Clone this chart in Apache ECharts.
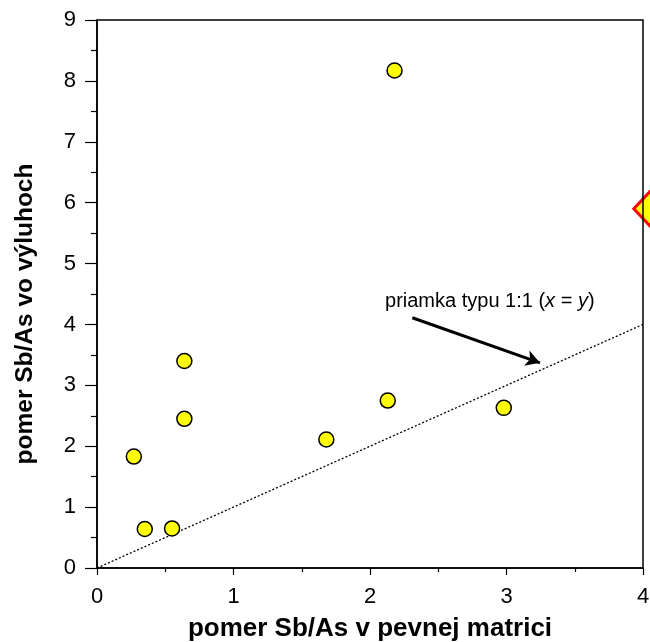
<!DOCTYPE html>
<html>
<head>
<meta charset="utf-8">
<script src="https://cdn.jsdelivr.net/npm/echarts@6/dist/echarts.min.js"></script>
<style>html,body{margin:0;padding:0;background:#fff}#c{width:650px;height:642px}</style>
</head>
<body>
<div id="c"></div>
<script>
// Data
const xVals = [2.18, 0.64, 0.64, 0.27, 0.35, 0.55, 1.68, 2.13, 2.98];
const yVals = [8.17, 3.40, 2.45, 1.83, 0.64, 0.65, 2.11, 2.75, 2.63];
const extraPoint = [4.05, 5.90];
const identityLine = [[0, 0], [4, 4]];
const arrowFrom = [2.31, 4.11];
const arrowTo = [3.245, 3.37];
const noteAt = [2.11, 4.375];
const xTicks = [0, 1, 2, 3, 4];
const yTicks = [0, 1, 2, 3, 4, 5, 6, 7, 8, 9];

const FONT = 'Liberation Sans, Arial, sans-serif';
const chart = echarts.init(document.getElementById('c'));
chart.setOption({
  animation: false,
  backgroundColor: '#fff',
  grid: { left: 97, right: 7, top: 20, bottom: 74, containLabel: false, outerBoundsMode: 'none',
    show: true, borderColor: '#000', borderWidth: 1.5, backgroundColor: 'transparent' },
  xAxis: {
    type: 'value', min: xTicks[0], max: xTicks[xTicks.length - 1], interval: 1,
    name: 'pomer Sb/As v pevnej matrici', nameLocation: 'middle', nameGap: 48,
    nameTextStyle: { fontFamily: FONT, fontWeight: 'bold', fontSize: 26, color: '#000' },
    axisLine: { show: true, onZero: false, lineStyle: { color: '#000', width: 1.5 } },
    axisTick: { show: true, inside: false, length: 7, lineStyle: { color: '#000', width: 1.2 } },
    minorTick: { show: true, splitNumber: 2, length: 4, lineStyle: { color: '#000', width: 1.2 } },
    axisLabel: { fontFamily: FONT, fontSize: 22, color: '#000', margin: 18 },
    splitLine: { show: false }
  },
  yAxis: {
    type: 'value', min: yTicks[0], max: yTicks[yTicks.length - 1], interval: 1,
    name: 'pomer Sb/As vo výluhoch', nameLocation: 'middle', nameGap: 59,
    nameTextStyle: { fontFamily: FONT, fontWeight: 'bold', fontSize: 24.5, color: '#000', padding: [0, 40, 0, 0] },
    axisLine: { show: true, onZero: false, lineStyle: { color: '#000', width: 1.5 } },
    axisTick: { show: true, inside: false, length: 12, lineStyle: { color: '#000', width: 1.2 } },
    minorTick: { show: true, splitNumber: 2, length: 6, lineStyle: { color: '#000', width: 1.2 } },
    axisLabel: { fontFamily: FONT, fontSize: 22, color: '#000', margin: 21 },
    splitLine: { show: false }
  },
  series: [
    {
      type: 'line', data: identityLine, symbol: 'none', silent: true,
      lineStyle: { color: '#000', width: 1.3, type: [2, 2] }, z: 1,
      markLine: {
        silent: true, symbolSize: [12, 14],
        lineStyle: { color: '#000', width: 3, type: 'solid' },
        label: { show: false },
        data: [[{ coord: arrowFrom, symbol: 'none' }, { coord: arrowTo, symbol: 'arrow' }]]
      }
    },
    {
      type: 'scatter', data: xVals.map((x, i) => [x, yVals[i]]), symbol: 'circle', symbolSize: 15,
      itemStyle: { color: '#ffff00', borderColor: '#000', borderWidth: 1.5, opacity: 1 }, z: 3
    },
    {
      type: 'scatter', data: [extraPoint], symbol: 'diamond', symbolSize: [32, 34], clip: false,
      itemStyle: { color: '#ffff00', borderColor: '#ff0000', borderWidth: 3, opacity: 1 }, z: -1
    },
    {
      type: 'scatter', data: [noteAt], symbolSize: 0, silent: true,
      itemStyle: { opacity: 1 },
      label: {
        show: true, position: 'right', distance: 0, color: '#000', opacity: 1,
        formatter: '{n|priamka typu 1:1 (}{i|x}{n| = }{i|y}{n|)}',
        rich: {
          n: { fontFamily: FONT, fontSize: 20, color: '#000' },
          i: { fontFamily: FONT, fontSize: 20, fontStyle: 'italic', color: '#000' }
        }
      }
    }
  ]
});
</script>
</body>
</html>
